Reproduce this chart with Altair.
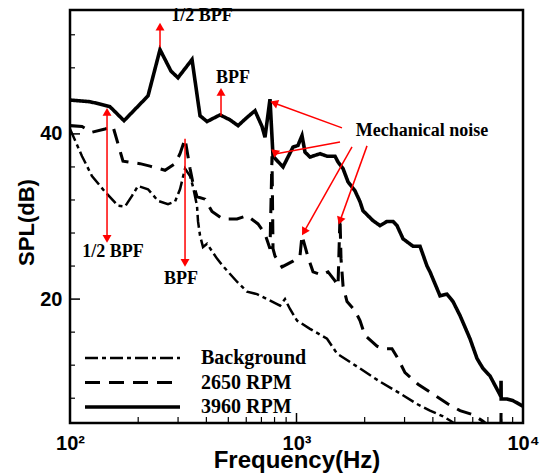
import altair as alt
import pandas as pd

# ---- data ----
series_names = ["Background", "2650 RPM", "3960 RPM"]

bg_f = [100, 113, 125, 142.7, 162.9, 174.9, 187.8, 199.6, 221, 244.6, 270.8, 290.8, 306, 322,
        338.8, 349.2, 363.7, 367.5, 375, 386.6, 402.7, 445.7, 473.6, 546.3, 604.7, 669.3, 741,
        845.8, 889.6, 936, 1005, 1147, 1364, 1510, 1907, 2337, 2778, 3404, 3885, 4436, 4761, 5273]
bg_db = [40.6, 37.3, 34.9, 33.0, 31.3, 31.2, 32.5, 33.7, 33.3, 31.9, 31.5, 31.8, 33.3, 35.8,
         34.9, 33.6, 31.3, 29.4, 27.7, 26.3, 26.7, 24.9, 24.0, 22.1, 20.9, 20.6, 20.0,
         19.2, 20.0, 18.8, 17.4, 16.4, 15.2, 13.4, 11.6, 10.0, 8.8, 7.3, 6.5, 5.8, 5.3, 4.5]

r2650_f = [100, 113, 125, 142.7, 154.8, 162.9, 171.4, 203.7, 225.5, 262.7, 290.8, 306, 322, 338.8,
           349.2, 363.7, 394.5, 423.6, 473.6, 546.3, 604.7, 676.1, 726, 763.9, 779.6, 787.6,
           803.8, 863, 965, 1036, 1057.5, 1090, 1124, 1183, 1296, 1378, 1479, 1525, 1556, 1572,
           1605, 1671, 1813, 1907, 2006, 2267, 2409, 2640, 2806, 3013, 3439, 4005, 4665, 5273,
           6016, 6659, 7150, 7990, 8000, 8010, 10000]
r2650_db = [41.0, 40.9, 40.2, 40.6, 40.9, 38.8, 36.7, 36.4, 36.1, 35.6, 36.4, 37.6, 39.4, 35.8,
            34.0, 32.4, 32.1, 30.6, 29.7, 29.7, 30.1, 29.1, 27.9, 26.1, 37.3, 26.1,
            25.2, 23.9, 24.6, 25.2, 27.7, 26.4, 25.1, 23.3, 22.9, 23.3, 22.2, 21.6, 30.0, 24.9,
            21.6, 19.7, 18.6, 17.4, 15.6, 14.3, 14.0, 14.0, 12.8, 11.1, 9.7, 8.5, 7.3, 6.5,
            6.0, 5.2, 4.5, 4.5, 6.4, 4.5, 4.0]

r3960_f = [100, 122.6, 150, 173.2, 221, 249.7, 279.2, 299.8, 345.7, 375, 402.7, 459.4, 508.6,
           551.9, 610.9, 655.9, 704.2, 726, 763.9, 787.6, 871.8, 965, 1015, 1057.5, 1090, 1147,
           1270, 1364, 1479, 1525, 1605, 1688, 1813, 1907, 1966, 2176, 2337, 2509, 2667, 2778,
           2953, 3268, 3510, 3769, 3885, 4302, 4618, 4909, 5273, 5834, 6267, 6659, 7150, 7678,
           7990, 8000, 8010, 8500, 9035, 9899, 10000]
r3960_db = [44.1, 43.9, 43.3, 41.6, 44.6, 50.2, 47.6, 46.8, 49.0, 42.2, 41.5, 42.3, 41.7,
            41.0, 42.1, 42.8, 40.9, 39.6, 44.2, 37.3, 36.0, 38.4, 38.6, 39.8, 37.8, 37.2,
            37.6, 37.3, 37.3, 36.6, 35.8, 34.2, 33.1, 31.8, 30.7, 29.5, 28.9, 29.4, 29.4, 28.9,
            27.3, 26.4, 26.4, 24.0, 23.3, 20.4, 20.6, 19.7, 18.0, 15.2, 12.8, 11.6, 10.7, 9.1,
            8.2, 10.1, 7.9, 7.9, 7.7, 7.1, 7.0]

# annotations (text)
note_text = ["1/2 BPF", "BPF", "1/2 BPF", "BPF", "Mechanical noise"]
note_f = [383, 525, 154.8, 309.2, 3582]
note_db = [54.3, 46.8, 25.7, 22.45, 40.4]

# annotation arrows: start -> tip
arr_f1 = [249.7, 464.2, 145.7, 322, 1588, 1556, 1758, 2048]
arr_db1 = [50.5, 42.2, 42.66, 39.4, 40.73, 39.03, 38.43, 38.55]
arr_f2 = [249.7, 464.2, 145.7, 322, 795.6, 803.8, 1079, 1556]
arr_db2 = [53.0, 45.1, 27.29, 24.38, 43.75, 37.58, 28.14, 29.47]
head_f = [249.7, 464.2, 145.7, 145.7, 322, 795.6, 803.8, 1079, 1556]
head_db = [53.0, 45.1, 42.66, 27.29, 24.38, 43.75, 37.58, 28.14, 29.47]
head_ang = [0, 0, 0, 180, 180, 290, 190, 210, 200]

# axis ticks
y_major = [20, 40]
y_minor = [8, 12, 16, 24, 28, 32, 36, 44, 48, 52]
x_major = [1000]
x_minor = [200, 300, 400, 500, 600, 700, 800, 900, 2000, 3000, 4000, 5000, 6000, 7000, 8000, 9000]

# ---- build tables ----
rows = []
for name, fs, ds in zip(series_names, [bg_f, r2650_f, r3960_f], [bg_db, r2650_db, r3960_db]):
    for i, (f, d) in enumerate(zip(fs, ds)):
        rows.append({"series": name, "f": f, "db": d, "i": i})
df = pd.DataFrame(rows)

notes = pd.DataFrame({"text": note_text, "f": note_f, "db": note_db})
arrows = pd.DataFrame({"f1": arr_f1, "db1": arr_db1, "f2": arr_f2, "db2": arr_db2})
heads = pd.DataFrame({"f": head_f, "db": head_db, "ang": head_ang})

xscale = alt.Scale(type="log", domain=[100, 10000], nice=False)
yscale = alt.Scale(domain=[5, 55], nice=False, zero=False)

xaxis = alt.Axis(values=[100, 1000, 10000],
                 labelExpr="datum.value == 100 ? '10\u00b2' : datum.value == 1000 ? '10\u00b3' : '10\u2074'",
                 title="Frequency(Hz)", titleFont="Liberation Sans", titleFontSize=24,
                 titleFontWeight="bold", titleColor="black", titleBaseline="alphabetic", titleY=44,
                 labelFont="Liberation Sans", labelFontSize=20, labelFontWeight="bold",
                 labelColor="black", labelPadding=10, labelFlush=False, labelOverlap=False,
                 ticks=False, tickSize=0, domain=False, grid=False)
yaxis = alt.Axis(values=y_major, title="SPL(dB)", titleFont="Liberation Sans", titleFontSize=22,
                 titleFontWeight="bold", titleColor="black", titleBaseline="alphabetic",
                 titleX=-37, titleY=212, titleAngle=-90,
                 labelFont="Liberation Sans", labelFontSize=20, labelFontWeight="bold",
                 labelColor="black", labelPadding=8, ticks=False, tickSize=0, domain=False, grid=False)

lines = alt.Chart(df).mark_line(clip=True, color="black").encode(
    x=alt.X("f:Q", scale=xscale, axis=xaxis),
    y=alt.Y("db:Q", scale=yscale, axis=yaxis),
    detail="series:N",
    order=alt.Order("i:Q"),
    strokeDash=alt.StrokeDash(
        "series:N",
        scale=alt.Scale(domain=series_names, range=[[13, 4, 4, 4], [15, 9], [1, 0]]),
        legend=alt.Legend(orient="none", legendX=13, legendY=338, title=None,
                          symbolType="stroke", symbolSize=9025, symbolStrokeWidth=4,
                          symbolStrokeColor="black", labelFont="Liberation Serif",
                          labelFontWeight="bold", labelFontSize=20, labelColor="black",
                          labelOffset=19, clipHeight=20, rowPadding=4.5, padding=0)),
    strokeWidth=alt.StrokeWidth("series:N",
                                scale=alt.Scale(domain=series_names, range=[2.5, 3.6, 4.0]),
                                legend=None),
)

ytick_major = alt.Chart(pd.DataFrame({"v": y_major})).mark_rule(color="black", strokeWidth=1.5).encode(
    y=alt.Y("v:Q", scale=yscale), x=alt.value(0), x2=alt.value(10))
ytick_minor = alt.Chart(pd.DataFrame({"v": y_minor})).mark_rule(color="black", strokeWidth=1.2).encode(
    y=alt.Y("v:Q", scale=yscale), x=alt.value(0), x2=alt.value(5))
xtick_major = alt.Chart(pd.DataFrame({"v": x_major})).mark_rule(color="black", strokeWidth=1.5).encode(
    x=alt.X("v:Q", scale=xscale), y=alt.value(413), y2=alt.value(403))
xtick_minor = alt.Chart(pd.DataFrame({"v": x_minor})).mark_rule(color="black", strokeWidth=1.2).encode(
    x=alt.X("v:Q", scale=xscale), y=alt.value(413), y2=alt.value(407))

arrow_lines = alt.Chart(arrows).mark_rule(color="#ff0000", strokeWidth=1.5).encode(
    x=alt.X("f1:Q", scale=xscale), y=alt.Y("db1:Q", scale=yscale),
    x2="f2:Q", y2="db2:Q")
arrow_heads = alt.Chart(heads).mark_point(shape="triangle-up", filled=True, color="#ff0000",
                                          size=80, opacity=1).encode(
    x=alt.X("f:Q", scale=xscale), y=alt.Y("db:Q", scale=yscale),
    angle=alt.Angle("ang:Q", scale=None))

texts = alt.Chart(notes).mark_text(font="Liberation Serif", fontWeight="bold", fontSize=18,
                                   color="black", baseline="middle", align="center").encode(
    x=alt.X("f:Q", scale=xscale), y=alt.Y("db:Q", scale=yscale), text="text:N")

chart = alt.layer(ytick_major, ytick_minor, xtick_major, xtick_minor, lines,
                  arrow_lines, arrow_heads, texts).properties(
    width=453, height=413,
    autosize=alt.AutoSizeParams(type="none"),
    padding={"left": 70, "top": 10, "right": 17, "bottom": 52},
    background="white",
).configure_view(stroke="black", strokeWidth=2.5)

chart.save("out.html", embed_options={"renderer": "svg", "actions": False})
